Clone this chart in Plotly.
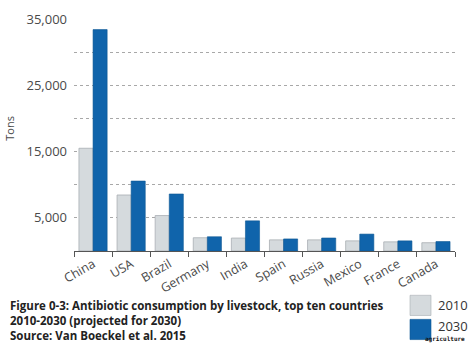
import plotly.graph_objects as go

# Antibiotic use in livestock, tons per year
countries = ["China", "USA", "Brazil", "Germany", "India",
             "Spain", "Russia", "Mexico", "France", "Canada"]
tons_2010 = [15500, 8450, 5350, 2000, 1950, 1680, 1680, 1530, 1380, 1250]
tons_2030 = [33400, 10550, 8600, 2150, 4550, 1820, 1960, 2550, 1530, 1430]

y_tickvals = [5000, 10000, 15000, 20000, 25000, 30000, 35000]
y_ticktext = ["5,000", "", "15,000", "", "25,000", "", "35,000"]

series_names = ["2010", "2030"]
caption_lines = [
    "Figure 0-3: Antibiotic consumption by livestock, top ten countries",
    "2010-2030 (projected for 2030)",
    "Source: Van Boeckel et al. 2015",
]

LIGHT = "#d5dadd"
LIGHT_EDGE = "#a9afb4"
BLUE = "#1064ab"
BLUE_EDGE = "#0d5794"
FONT = "Open Sans"

W, H = 473, 346
L, R, T, B = 74, 18, 10, 95

fig = go.Figure()
fig.add_trace(go.Bar(x=countries, y=tons_2010, name=series_names[0],
                     marker=dict(color=LIGHT, line=dict(color=LIGHT_EDGE, width=0.8))))
fig.add_trace(go.Bar(x=countries, y=tons_2030, name=series_names[1],
                     marker=dict(color=BLUE, line=dict(color=BLUE_EDGE, width=0.6))))

fig.update_layout(
    width=W, height=H,
    margin=dict(l=L, r=R, t=T, b=B),
    plot_bgcolor="white", paper_bgcolor="white",
    barmode="group", bargap=0.26, bargroupgap=0,
    showlegend=False,
    font=dict(family=FONT, color="#444"),
)

fig.update_yaxes(
    range=[0, 35000],
    tickvals=y_tickvals, ticktext=y_ticktext,
    tickfont=dict(size=13, color="#4a4a4a"),
    showgrid=True, gridcolor="#a8a8a8", griddash="dot", gridwidth=1,
    zeroline=False, showline=False, ticks="", ticklabelstandoff=6,
)
fig.update_xaxes(
    tickangle=-30,
    tickfont=dict(size=12.5, color="#4a4a4a"),
    showline=True, linecolor="#555", linewidth=1.2,
    ticks="outside", tickson="boundaries", ticklen=5, tickcolor="#555",
    showgrid=False,
)

pw = W - L - R
ph = H - T - B


def px_x(x):
    return (x - L) / pw


def px_y(y):
    return (H - B - y) / ph


# Y axis title
fig.add_annotation(text="Tons", xref="paper", yref="paper",
                   x=px_x(10), y=px_y(124), textangle=-90,
                   showarrow=False, font=dict(size=11, color="#4a4a4a"),
                   xanchor="center", yanchor="middle")

# Caption
for i, line in enumerate(caption_lines):
    fig.add_annotation(text="<b>" + line + "</b>", xref="paper", yref="paper",
                       x=px_x(8), y=px_y(308 + i * 15.3), xanchor="left", yanchor="middle",
                       showarrow=False, font=dict(size=11.5, color="#222"))

# Legend swatches
for i, (name, col, edge) in enumerate(zip(series_names, [LIGHT, BLUE], [LIGHT_EDGE, BLUE_EDGE])):
    top = 297 + i * 25
    fig.add_shape(type="rect", xref="paper", yref="paper",
                  x0=px_x(410), x1=px_x(431), y0=px_y(top + 21), y1=px_y(top),
                  fillcolor=col, line=dict(color=edge, width=0.6))
    fig.add_annotation(text=name, xref="paper", yref="paper",
                       x=px_x(436), y=px_y(top + 10 - 3 * i), xanchor="left", yanchor="middle",
                       showarrow=False, font=dict(size=13, color="#333"))

fig.add_annotation(text="<b>agriculture</b>", xref="paper", yref="paper",
                   x=px_x(467), y=px_y(342.5), xanchor="right", yanchor="middle",
                   showarrow=False, font=dict(size=6, color="#111", family="DejaVu Sans Mono"))

fig.write_html("out.html")
